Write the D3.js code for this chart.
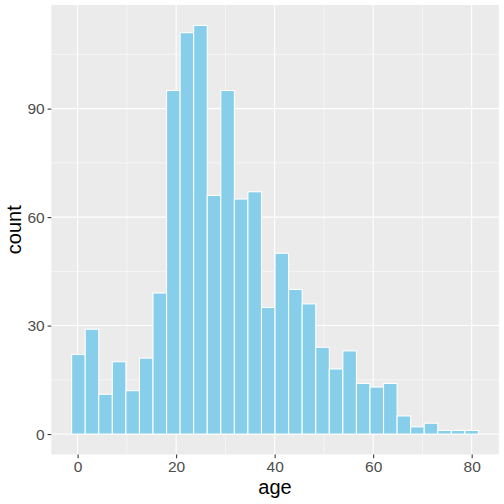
<!DOCTYPE html>
<html>
<head>
<meta charset="utf-8">
<script src="https://cdn.jsdelivr.net/npm/d3@7"></script>
<style>
  body { margin: 0; background: #fff; }
  text { font-family: "Liberation Sans", Arial, sans-serif; }
</style>
</head>
<body>
<svg id="chart" width="504" height="504"></svg>
<script>
// age histogram, 30 bins (ggplot style)
var binStart = -1.21;     // left edge of the first bin
var binWidth = 2.7529;
var counts = [22, 29, 11, 20, 12, 21, 39, 95, 111, 113, 66, 95, 65, 67, 35,
              50, 40, 36, 24, 18, 23, 14, 13, 14, 5, 2, 3, 1, 1, 1];
var xTicks = [0, 20, 40, 60, 80];
var xMinor = [10, 30, 50, 70];
var yTicks = [0, 30, 60, 90];
var yMinor = [15, 45, 75, 105];
var xTitle = "age";
var yTitle = "count";

var svg = d3.select("#chart");
var panel = { left: 51.3, right: 498.8, top: 5, bottom: 454.5 };

var bins = counts.map(function(c, i) {
	return { x0: binStart + i * binWidth, x1: binStart + (i + 1) * binWidth, n: c };
});

var xLo = bins[0].x0, xHi = bins[bins.length - 1].x1;
var xPad = (xHi - xLo) * 0.05;
var yMax = d3.max(counts);

var x = d3.scaleLinear()
	.domain([xLo - xPad, xHi + xPad])
	.range([panel.left, panel.right]);

var y = d3.scaleLinear()
	.domain([-yMax * 0.05, yMax * 1.05])
	.range([panel.bottom, panel.top]);

// grey panel
svg.append("rect")
	.attr("x", panel.left)
	.attr("y", panel.top)
	.attr("width", panel.right - panel.left)
	.attr("height", panel.bottom - panel.top)
	.attr("fill", "#EBEBEB");

var grid = svg.append("g");

// minor grid first, then major
grid.selectAll(".ymin").data(yMinor).enter().append("line")
	.attr("x1", panel.left).attr("x2", panel.right)
	.attr("y1", function(d) { return y(d); })
	.attr("y2", function(d) { return y(d); })
	.attr("stroke", "#fff").attr("stroke-width", 0.53);

grid.selectAll(".xmin").data(xMinor).enter().append("line")
	.attr("y1", panel.top).attr("y2", panel.bottom)
	.attr("x1", function(d) { return x(d); })
	.attr("x2", function(d) { return x(d); })
	.attr("stroke", "#fff").attr("stroke-width", 0.53);

grid.selectAll(".ymaj").data(yTicks).enter().append("line")
	.attr("x1", panel.left).attr("x2", panel.right)
	.attr("y1", function(d) { return y(d); })
	.attr("y2", function(d) { return y(d); })
	.attr("stroke", "#fff").attr("stroke-width", 1.07);

grid.selectAll(".xmaj").data(xTicks).enter().append("line")
	.attr("y1", panel.top).attr("y2", panel.bottom)
	.attr("x1", function(d) { return x(d); })
	.attr("x2", function(d) { return x(d); })
	.attr("stroke", "#fff").attr("stroke-width", 1.07);

// bars
svg.append("g").selectAll("rect")
	.data(bins)
	.enter().append("rect")
	.attr("x", function(d) { return x(d.x0); })
	.attr("width", function(d) { return x(d.x1) - x(d.x0); })
	.attr("y", function(d) { return y(d.n); })
	.attr("height", function(d) { return y(0) - y(d.n); })
	.attr("fill", "#87CEEB")
	.attr("stroke", "#fff")
	.attr("stroke-width", 1.07);

// axes
var xAxis = svg.append("g")
	.attr("transform", "translate(0," + panel.bottom + ")")
	.call(d3.axisBottom(x).tickValues(xTicks).tickSize(3.7).tickPadding(2.9).tickFormat(d3.format("d")));

var yAxis = svg.append("g")
	.attr("transform", "translate(" + panel.left + ",0)")
	.call(d3.axisLeft(y).tickValues(yTicks).tickSize(3.7).tickPadding(2.9).tickFormat(d3.format("d")));

[xAxis, yAxis].forEach(function(a) {
	a.select(".domain").remove();
	a.selectAll(".tick line").attr("stroke", "#333333").attr("stroke-width", 1.07);
	a.selectAll(".tick text")
		.attr("fill", "#4D4D4D")
		.style("font-size", "15.5px");
});

// axis titles
svg.append("text")
	.attr("x", (panel.left + panel.right) / 2)
	.attr("y", 493.5)
	.attr("text-anchor", "middle")
	.style("font-size", "20px")
	.attr("fill", "#000")
	.text(xTitle);

svg.append("text")
	.attr("transform", "translate(20.5," + ((panel.top + panel.bottom) / 2) + ") rotate(-90)")
	.attr("text-anchor", "middle")
	.style("font-size", "20px")
	.attr("fill", "#000")
	.text(yTitle);
</script>
</body>
</html>
